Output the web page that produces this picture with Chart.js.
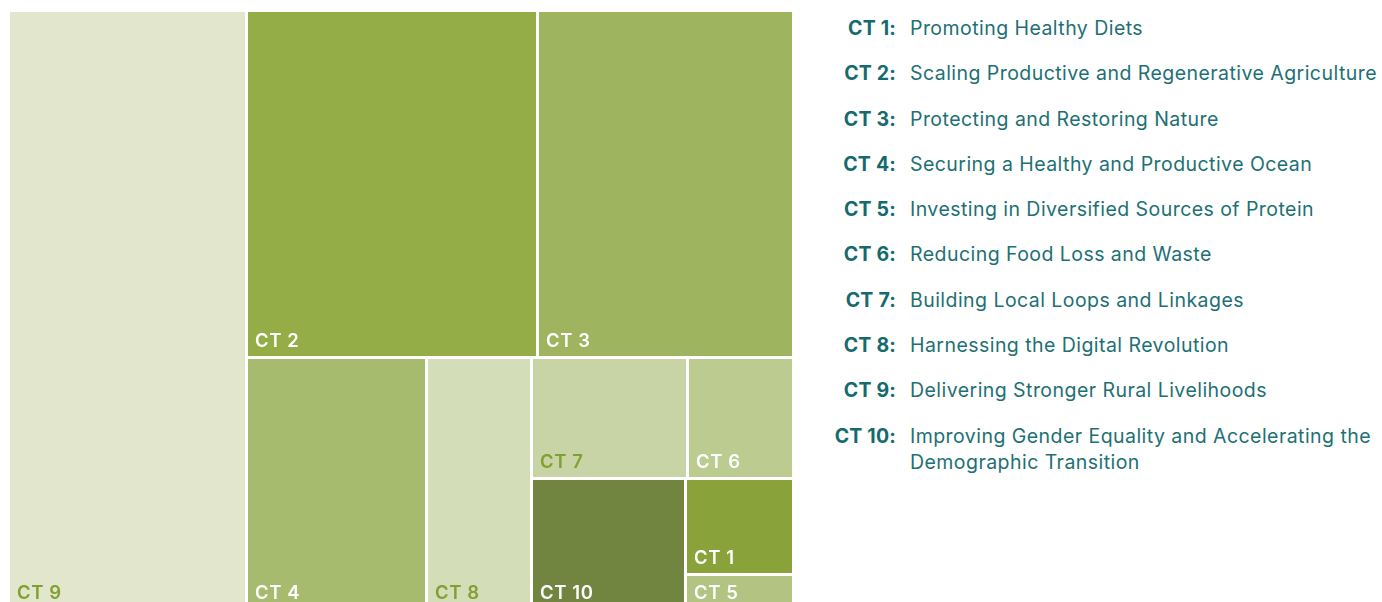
<!DOCTYPE html>
<html>
<head>
<meta charset="utf-8">
<script src="https://cdn.jsdelivr.net/npm/chart.js@4.4.1/dist/chart.umd.min.js"></script>
<style>
  html, body { margin:0; padding:0; background:#ffffff; overflow:hidden; width:1382px; height:602px; }
  #wrap { position:relative; width:1382px; height:602px; overflow:hidden; }
  #c { position:absolute; left:0; top:0; }
  #legend {
    position:absolute; left:820px; top:15px;
    display:grid; grid-template-columns:76px auto; column-gap:14px; row-gap:19.3px;
    font-family:Inter, "Open Sans", sans-serif; font-size:19.5px; line-height:26px;
  }
  #legend .k { text-align:right; font-weight:700; color:#156a6e; white-space:nowrap; letter-spacing:0.2px; }
  #legend .d { color:#1d7074; font-weight:400; letter-spacing:0.45px; max-width:480px; }
</style>
</head>
<body>
<div id="wrap">
  <canvas id="c" width="800" height="612"></canvas>
  <div id="legend"></div>
</div>
<script>
// ---- data ----
const categories = ['CT 1','CT 2','CT 3','CT 4','CT 5','CT 6','CT 7','CT 8','CT 9','CT 10'];
const descriptions = [
  'Promoting Healthy Diets',
  'Scaling Productive and Regenerative Agriculture',
  'Protecting and Restoring Nature',
  'Securing a Healthy and Productive Ocean',
  'Investing in Diversified Sources of Protein',
  'Reducing Food Loss and Waste',
  'Building Local Loops and Linkages',
  'Harnessing the Digital Revolution',
  'Delivering Stronger Rural Livelihoods',
  'Improving Gender Equality and Accelerating the Demographic Transition'
];
const values = [2.2, 21.5, 18.9, 9.6, 0.8, 2.7, 4.0, 5.6, 30.3, 4.3];
// grouping of the cells (hierarchy of the treemap)
const nesting = ['CT 9', [['CT 2','CT 3'], ['CT 4','CT 8', [['CT 7','CT 6'], ['CT 10', ['CT 1','CT 5']]]]]];

// ---- styles ----
const cellColors = ['#89a33a','#94ad47','#9eb45e','#a7bb6f','#b2c382','#bccb90','#c8d4a5','#d3ddb8','#e1e6cc','#718540'];
const labelColors = ['#ffffff','#ffffff','#ffffff','#ffffff','#ffffff','#ffffff','#7fa12f','#7fa12f','#7fa12f','#ffffff'];

// ---- legend (HTML) ----
const legendEl = document.getElementById('legend');
categories.forEach((c, i) => {
  const k = document.createElement('div'); k.className = 'k'; k.textContent = c + ':';
  const d = document.createElement('div'); d.className = 'd'; d.textContent = descriptions[i];
  legendEl.appendChild(k); legendEl.appendChild(d);
});

// ---- treemap layout (slice and dice over the hierarchy, in value space) ----
function sumOf(node) {
  return Array.isArray(node) ? node.reduce((s, n) => s + sumOf(n), 0) : values[categories.indexOf(node)];
}
function layout(node, x0, y0, x1, y1, depth, out) {
  if (!Array.isArray(node)) { out.push({ cat: node, x0, y0, x1, y1 }); return; }
  const total = sumOf(node);
  let pos = depth % 2 === 0 ? x0 : y0;
  node.forEach(child => {
    const f = sumOf(child) / total;
    if (depth % 2 === 0) { const w = (x1 - x0) * f; layout(child, pos, y0, pos + w, y1, depth + 1, out); pos += w; }
    else { const h = (y1 - y0) * f; layout(child, x0, pos, x1, pos + h, depth + 1, out); pos += h; }
  });
}
const cells = [];
layout(nesting, 0, 0, 1, 1, 0, cells);

const treemapPlugin = {
  id: 'treemapCells',
  beforeDatasetsDraw(chart) {
    const { ctx, scales: { x, y } } = chart;
    const gap = 1.5;
    ctx.save();
    cells.forEach(cell => {
      const i = categories.indexOf(cell.cat);
      const px0 = Math.round(x.getPixelForValue(cell.x0) + gap);
      const px1 = Math.round(x.getPixelForValue(cell.x1) - gap);
      const py0 = Math.round(y.getPixelForValue(cell.y0) + gap);
      const py1 = Math.round(y.getPixelForValue(cell.y1) - gap);
      ctx.fillStyle = cellColors[i];
      ctx.fillRect(px0, py0, px1 - px0, py1 - py0);
      ctx.fillStyle = labelColors[i];
      ctx.font = '600 18.5px Inter, "Open Sans", sans-serif';
      if ('letterSpacing' in ctx) ctx.letterSpacing = '0.6px';
      ctx.textAlign = 'left';
      ctx.textBaseline = 'alphabetic';
      ctx.fillText(cell.cat, px0 + 7, py1 - 9);
    });
    ctx.restore();
  }
};

new Chart(document.getElementById('c'), {
  type: 'scatter',
  data: {
    datasets: [{
      label: 'cells',
      data: cells.map(c => ({ x: (c.x0 + c.x1) / 2, y: (c.y0 + c.y1) / 2 })),
      pointRadius: 0,
      pointHoverRadius: 0
    }]
  },
  options: {
    responsive: false,
    animation: false,
    devicePixelRatio: 1,
    layout: { padding: { left: 8.5, top: 10.5, right: 6.5, bottom: 3 } },
    scales: {
      x: { type: 'linear', min: 0, max: 1, display: false },
      y: { type: 'linear', min: 0, max: 1, reverse: true, display: false }
    },
    plugins: { legend: { display: false }, tooltip: { enabled: false } },
    events: []
  },
  plugins: [treemapPlugin]
});
</script>
</body>
</html>
